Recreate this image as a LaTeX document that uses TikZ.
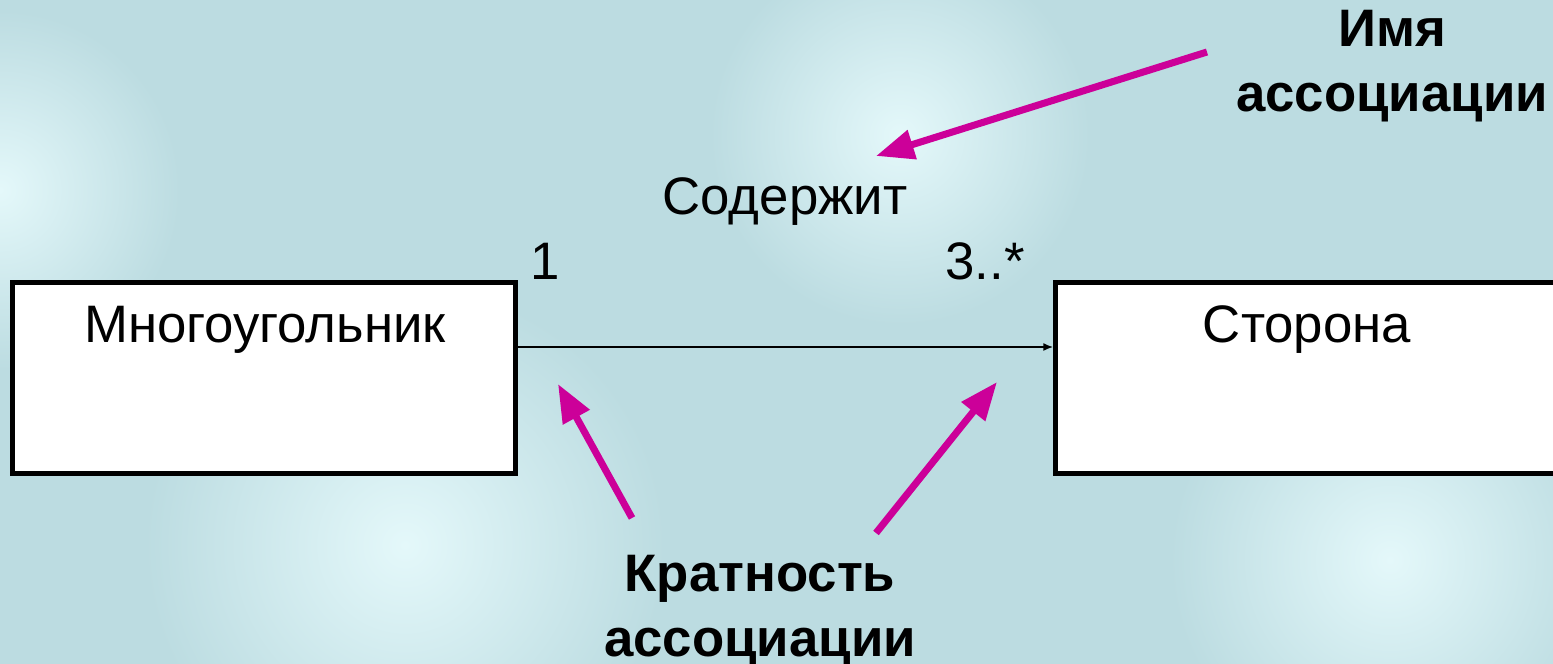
\documentclass[tikz,border=0pt]{standalone}
\usepackage{fontspec}
\setmainfont{Liberation Sans}
\usetikzlibrary{arrows.meta}

\definecolor{bgbase}{RGB}{188,220,225}
\definecolor{bglight}{RGB}{228,248,250}
\definecolor{pointer}{RGB}{204,0,153}

\tikzset{
    classbox/.style = {draw, line width=1.4pt, fill=white, minimum width=5.02cm, minimum height=1.9cm},
    callout/.style  = {-{Triangle[length=0.38cm, width=0.29cm]}, line width=2pt, pointer},
    tag/.style      = {font=\fontsize{15}{18.5}\selectfont\bfseries, align=center, anchor=base, inner sep=0pt},
    label/.style    = {anchor=base, inner sep=0pt}
}

\begin{document}
\begin{tikzpicture}[x=0.01cm, y=-0.01cm, font=\fontsize{15}{18}\selectfont]
    \useasboundingbox (0, 0) rectangle (1553, 664);
    \clip (0, 0) rectangle (1553, 664);

    % background with soft light patches
    \fill[bgbase] (0, 0) rectangle (1553, 664);
    \foreach \cx/\cy/\r in {405/545/260, 900/135/190, 0/190/180, 1390/560/220} {
        \shade[inner color=bglight, outer color=bgbase] (\cx, \cy) circle (\r);
    }

    % classes
    \node[classbox] (polygon) at (264, 378) {};
    \node[classbox] (side) at (1307, 378) {};
    \node[label] (polygonname) at (265, 343) {Многоугольник};
    \node[label] (sidename) at (1307, 343) {Сторона};

    % association
    \coordinate (assocstart) at (polygon.east |- 0, 347);
    \coordinate (assocend) at (side.west |- 0, 347);
    \draw[line width=0.6pt, -{Latex[length=0.1cm, width=0.08cm]}] (assocstart) -- (assocend);
    \node[label] (assocname) at (785, 215) {Содержит};
    \node[label] (multleft) at (545, 280) {1};
    \node[label] (multright) at (985, 280) {3..*};

    % explanations (base = baseline of the last line)
    \node[tag] (nametag) at (1392, 112) {Имя\\ассоциации};
    \node[tag] (multtag) at (760, 657) {Кратность\\ассоциации};

    \coordinate (namefrom) at (1207, 52);
    \coordinate (nametip) at (876, 156);
    \coordinate (leftfrom) at (632, 518);
    \coordinate (lefttip) at (558, 384);
    \coordinate (rightfrom) at (876, 533);
    \coordinate (righttip) at (997, 382);

    \draw[callout] (namefrom) -- (nametip);
    \draw[callout] (leftfrom) -- (lefttip);
    \draw[callout] (rightfrom) -- (righttip);
\end{tikzpicture}
\end{document}
